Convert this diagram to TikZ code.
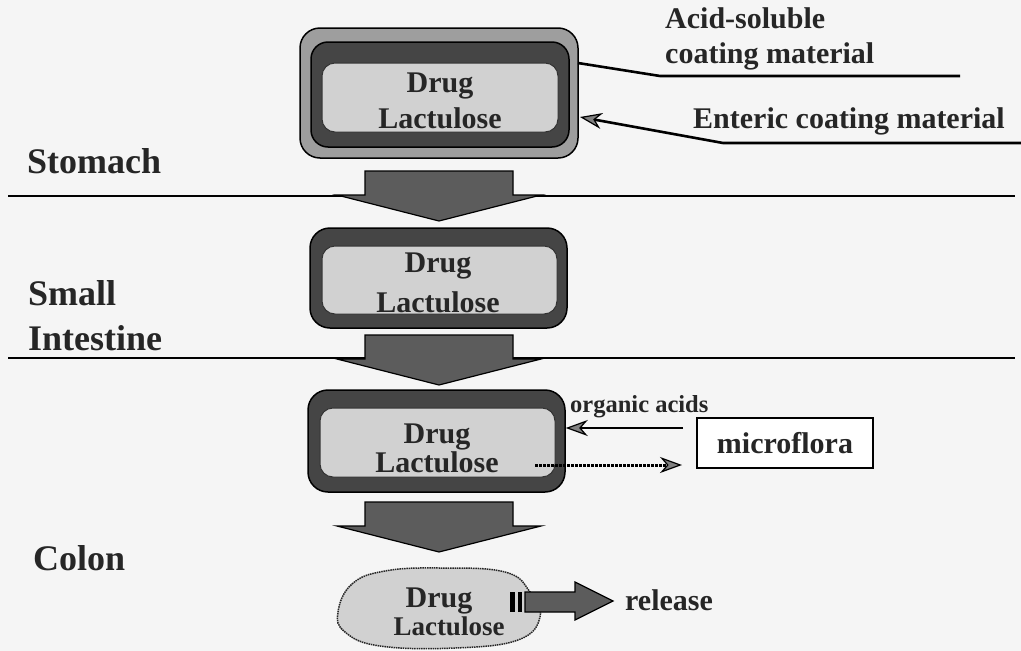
\documentclass[tikz,border=0pt]{standalone}
\usepackage{fontspec}
\setmainfont{Liberation Serif}
\usetikzlibrary{arrows.meta,positioning}
\definecolor{paper}{gray}{0.96}
\definecolor{ringlight}{gray}{0.62}
\definecolor{ringdark}{gray}{0.27}
\definecolor{core}{gray}{0.82}
\definecolor{shaft}{gray}{0.36}
\definecolor{ink}{gray}{0.15}
\tikzset{
  ring/.style={draw=black, line width=1.5pt, rounded corners=20pt, inner sep=0pt},
  corebox/.style={draw=black!80, fill=core, line width=1pt, rounded corners=13pt, inner sep=0pt},
  big/.style={font=\fontsize{36}{40}\selectfont\bfseries, text=ink, anchor=base west, inner sep=0pt},
  mid/.style={font=\fontsize{30}{34}\selectfont\bfseries, text=ink, anchor=base west, inner sep=0pt},
  drugtxt/.style={font=\fontsize{30}{34}\selectfont\bfseries, text=ink, anchor=base, inner sep=0pt},
  small/.style={font=\fontsize{24.5}{28}\selectfont\bfseries, text=ink, anchor=base west, inner sep=0pt},
  tip/.style={-{Stealth[length=22pt,width=16pt,inset=7pt,fill=gray,line width=1.2pt]}, line width=2.6pt},
  shaftfill/.style={draw=black, fill=shaft, line width=1.2pt}
}
\begin{document}
\begin{tikzpicture}[x=1pt,y=-1pt]
\useasboundingbox[fill=paper] (0,0) rectangle (1021,651);
% boundaries between the regions
\draw[line width=2pt] (8,196) -- (1015,196);
\draw[line width=2pt] (8,358) -- (1015,358);
\node[big] (stomach) at (27,173) {Stomach};
\node[big] (smallint) at (28,305) {Small};
\node[big] (intestine) at (28,350) {Intestine};
\node[big] (colon) at (33,570) {Colon};
% capsule in the stomach
\node[ring, fill=ringlight, minimum width=278pt, minimum height=130pt] (cap1) at (439,93) {};
\node[ring, fill=ringdark, rounded corners=17pt, minimum width=258pt, minimum height=105pt] (cap1m) at (440,94.5) {};
\node[corebox, minimum width=236pt, minimum height=69pt] (core1) at (440,97.5) {};
\node[drugtxt] (drug1) at (440,92) {Drug};
\node[drugtxt] (lact1) at (440,128) {Lactulose};
% capsule in the small intestine
\node[ring, fill=ringdark, minimum width=257pt, minimum height=100pt] (cap2) at (438.5,278) {};
\node[corebox, minimum width=235pt, minimum height=68pt] (core2) at (439.5,280) {};
\node[drugtxt] (drug2) at (438,272) {Drug};
\node[drugtxt] (lact2) at (438,312) {Lactulose};
% capsule in the colon
\node[ring, fill=ringdark, minimum width=257pt, minimum height=102pt] (cap3) at (436.5,441) {};
\node[corebox, minimum width=235pt, minimum height=69pt] (core3) at (437.5,442.5) {};
\node[drugtxt] (drug3) at (437,443) {Drug};
\node[drugtxt] (lact3) at (437,472) {Lactulose};
% big arrows down
\foreach \ty in {171,335,502}
  \draw[shaftfill] (365,\ty) -- (513,\ty) -- (513,\ty+24) -- (541,\ty+24)
    -- (439,\ty+50) -- (337,\ty+24) -- (365,\ty+24) -- cycle;
% coating labels
\node[mid] (acid) at (665,28) {Acid-soluble};
\node[mid] (coatmat) at (665,63) {coating material};
\node[mid] (enteric) at (693,128) {Enteric coating material};
\coordinate (acidin) at (578,63);
\coordinate (acidbend) at (660,76);
\coordinate (acidend) at (960,76);
\draw[line width=2.6pt] (acidin) -- (acidbend) -- (acidend);
\coordinate (entin) at (580,117);
\coordinate (entbend) at (723,143);
\coordinate (entend) at (1021,143);
\draw[tip] (entend) -- (entbend) -- (entin);
% microflora
\node[draw=black, line width=1.5pt, fill=white, minimum width=176pt, minimum height=50pt,
  font=\fontsize{30}{34}\selectfont\bfseries, text=ink] (micro) at (785,443) {microflora};
\node[small] (orgacid) at (570,412) {organic acids};
\coordinate (oafrom) at (683,428);
\draw[tip] (oafrom) -- (oafrom -| cap3.east);
\coordinate (dotfrom) at (535,465);
\coordinate (dotto) at (682,465);
\draw[tip, line width=3pt, dash pattern=on 2.5pt off 1.5pt] (dotfrom) -- (dotto);
% released drug
\draw[fill=core, line width=1.5pt, dash pattern=on 1.5pt off 0.8pt, draw=ink]
  plot[smooth cycle, tension=0.7] coordinates {(338,612) (352,584) (385,571) (440,568)
  (505,572) (530,592) (540,617) (518,640) (455,648) (380,646) (345,632)};
\node[drugtxt] (drug4) at (439,607) {Drug};
\node[drugtxt, font=\fontsize{27}{30}\selectfont\bfseries] (lact4) at (449,635) {Lactulose};
\fill[black] (510,592) rectangle (515,612);
\fill[black] (518,592) rectangle (522,612);
\draw[shaftfill] (525,592) -- (575,592) -- (575,582) -- (613,601) -- (575,620)
  -- (575,612) -- (525,612) -- cycle;
\node[mid] (release) at (625,610) {release};
\end{tikzpicture}
\end{document}
